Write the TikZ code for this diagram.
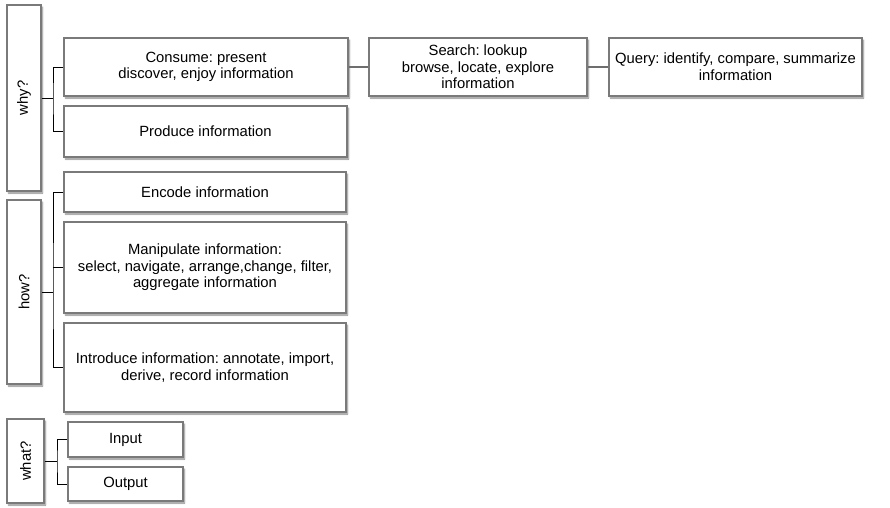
\documentclass[tikz,border=0pt]{standalone}
\usepackage{fontspec}
\setmainfont{Liberation Sans}
\frenchspacing
\usetikzlibrary{shadows.blur}
\definecolor{boxline}{HTML}{7A7A7A}
\definecolor{conn}{HTML}{6E6E6E}
\begin{document}
\begin{tikzpicture}[x=1pt,y=-1pt,
  box/.style={draw=boxline, line width=1.3pt, fill=white, rectangle, inner sep=2pt,
    align=center, font=\fontsize{14.8}{16.6}\selectfont,
    blur shadow={shadow xshift=1.5pt, shadow yshift=-2pt, shadow blur steps=4, shadow blur radius=1.5pt, shadow opacity=45}},
  vbox/.style={box, rotate=90},
  bracket/.style={draw=black, line width=0.9pt},
  link/.style={draw=conn, line width=1.3pt}]
\useasboundingbox (0,0) rectangle (890,507);

% why
\node[vbox, minimum width=186pt, minimum height=34pt] (why) at (24,98) {why?};
\node[box, minimum width=284pt, minimum height=58pt] (consume) at (206,67) {Consume: present\\discover, enjoy information};
\node[box, minimum width=283pt, minimum height=51pt] (produce) at (205.5,131.5) {Produce information};
\node[box, minimum width=218pt, minimum height=58pt] (search) at (478,67) {Search: lookup\\browse, locate, explore\\information};
\node[box, minimum width=253pt, minimum height=58pt] (query) at (735.5,67) {Query: identify, compare, summarize\\information};

% how
\node[vbox, minimum width=184pt, minimum height=34pt] (how) at (24,292) {how?};
\node[box, minimum width=282pt, minimum height=40pt] (encode) at (205,192) {Encode information};
\node[box, minimum width=282pt, minimum height=91pt] (manip) at (205,267.5) {Manipulate information:\\select, navigate, arrange,change, filter,\\aggregate information};
\node[box, minimum width=282pt, minimum height=89pt] (intro) at (205,367.5) {Introduce information: annotate, import,\\derive, record information};

% what
\node[vbox, minimum width=84pt, minimum height=37pt] (what) at (25.5,461) {what?};
\node[box, minimum width=115pt, minimum height=35pt] (input) at (125.5,439.5) {Input};
\node[box, minimum width=115pt, minimum height=34pt] (output) at (125.5,484) {Output};

% junction coordinates
\coordinate (jw) at (53,98);
\coordinate (jh) at (53,292);
\coordinate (jt) at (57,461);

% brackets
\draw[bracket] (consume.west) -| (jw) |- (produce.west);
\draw[bracket] (why.south) -- (jw);
\draw[bracket] (encode.west) -| (jh) |- (intro.west);
\draw[bracket] (manip.west) -- (manip.west -| jh);
\draw[bracket] (how.south) -- (jh);
\draw[bracket] (input.west) -| (jt) |- (output.west);
\draw[bracket] (what.south) -- (jt);

% links
\draw[link] (consume.east) -- (search.west);
\draw[link] (search.east) -- (query.west);
\end{tikzpicture}
\end{document}
